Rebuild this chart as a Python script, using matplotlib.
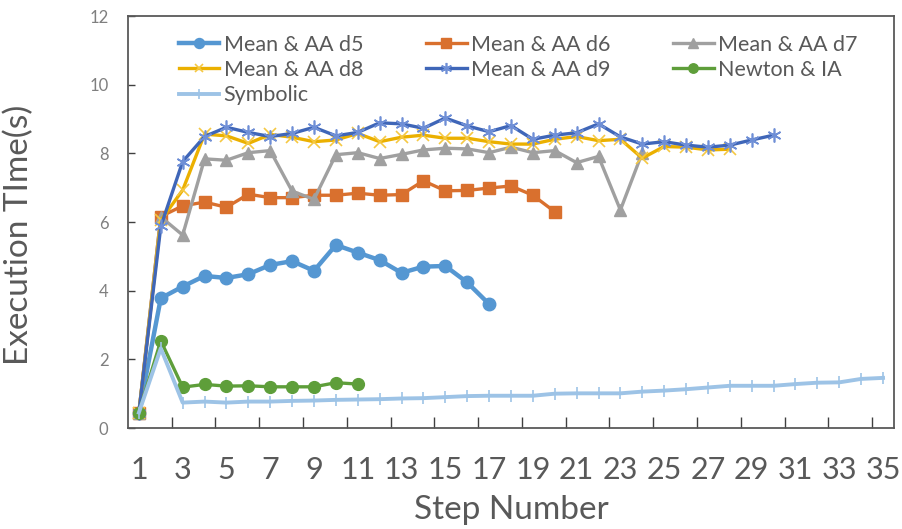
import numpy as np
import matplotlib
matplotlib.use("Agg")
import matplotlib.pyplot as plt

plt.rcParams['font.family'] = ['Lato', 'DejaVu Sans']

# Step numbers 1..35 (category axis)
steps = list(range(1, 36))

d5 = [0.45, 3.78, 4.12, 4.43, 4.37, 4.48, 4.75, 4.86, 4.58, 5.33, 5.11, 4.89,
      4.52, 4.70, 4.72, 4.24, 3.61]
d6 = [0.45, 6.16, 6.47, 6.58, 6.43, 6.81, 6.71, 6.71, 6.78, 6.78, 6.84, 6.78,
      6.80, 7.20, 6.91, 6.92, 6.99, 7.05, 6.78, 6.30]
d7 = [0.45, 6.15, 5.62, 7.84, 7.80, 8.02, 8.08, 6.90, 6.66, 7.96, 8.02, 7.85,
      7.97, 8.10, 8.15, 8.13, 8.02, 8.18, 8.02, 8.08, 7.73, 7.91, 6.35, 8.02]
d8 = [0.45, 6.05, 6.93, 8.56, 8.51, 8.29, 8.55, 8.47, 8.34, 8.39, 8.58, 8.34,
      8.47, 8.53, 8.44, 8.44, 8.34, 8.27, 8.27, 8.41, 8.49, 8.37, 8.41, 7.86,
      8.20, 8.18, 8.10, 8.12]
d9 = [0.45, 5.87, 7.76, 8.49, 8.76, 8.61, 8.49, 8.58, 8.76, 8.51, 8.61, 8.89,
      8.86, 8.73, 9.03, 8.80, 8.63, 8.81, 8.41, 8.53, 8.60, 8.86, 8.48, 8.27,
      8.34, 8.24, 8.18, 8.24, 8.39, 8.53]
newton = [0.45, 2.54, 1.19, 1.27, 1.22, 1.23, 1.20, 1.20, 1.20, 1.32, 1.28]
symbolic = [0.45, 2.32, 0.74, 0.77, 0.74, 0.77, 0.77, 0.79, 0.80, 0.82, 0.83,
            0.84, 0.86, 0.87, 0.90, 0.93, 0.94, 0.94, 0.94, 1.00, 1.01, 1.01,
            1.01, 1.06, 1.09, 1.13, 1.18, 1.23, 1.23, 1.23, 1.28, 1.32, 1.33,
            1.43, 1.46]

series = [
    ("Mean & AA d5", d5, dict(color='#5597D2', lw=3.2, marker='o', ms=9)),
    ("Mean & AA d6", d6, dict(color='#D9702E', lw=2.4, marker='s', ms=9)),
    ("Mean & AA d7", d7, dict(color='#A0A0A0', lw=2.4, marker='^', ms=9)),
    ("Mean & AA d8", d8, dict(color='#EBB000', lw=2.4, marker='x', ms=8,
                              mec='#F5C842', mew=1.2)),
    ("Mean & AA d9", d9, dict(color='#3F66B8', lw=2.4, marker=(6, 2, 0), ms=10,
                              mec='#6F8FD6', mew=1.2)),
    ("Newton & IA", newton, dict(color='#5E9E3A', lw=2.4, marker='o', ms=8.5)),
    ("Symbolic", symbolic, dict(color='#9DC3E6', lw=2.8, marker='|', ms=9,
                                mew=1.2)),
]

text_col = '#595959'

fig = plt.figure(figsize=(9.03, 5.29), dpi=100)
ax = fig.add_axes([0.1417, 0.1909, 0.8483, 0.7788])

lines = []
for name, vals, style in series:
    ln, = ax.plot(steps[:len(vals)], vals, label=name, **style)
    lines.append(ln)

ax.set_xlim(0.5, 35.5)
ax.set_ylim(0, 12)
ax.set_xticks(steps[::2])
ax.set_xticks(np.arange(2.5, 35.5, 2), minor=True)
ax.set_yticks(np.arange(0, 13, 2))

ax.tick_params(axis='x', which='major', length=0, pad=20, labelsize=22,
               labelcolor=text_col)
ax.tick_params(axis='x', which='minor', direction='in', length=8, width=1,
               color='#404040')
ax.tick_params(axis='y', direction='in', length=5, width=1, color='#404040',
               pad=14, labelsize=12, labelcolor='#7F7F7F')

for side in ['left', 'bottom', 'top', 'right']:
    ax.spines[side].set_color('#595959')
    ax.spines[side].set_linewidth(1.3)

ax.set_xlabel("Step Number", fontsize=24, color=text_col, labelpad=8)
ax.set_ylabel("Execution TIme(s)", fontsize=24, color=text_col)
ax.yaxis.set_label_coords(-0.122, 0.47)

# legend is filled column by column; order so it reads row by row
order = [0, 3, 6, 1, 4, 2, 5]
ax.legend([lines[i] for i in order], [series[i][0] for i in order],
          loc='upper left', bbox_to_anchor=(0.066, 0.955), ncol=3, frameon=False,
          fontsize=15.5, labelcolor=text_col, handlelength=1.9, handletextpad=0.2,
          columnspacing=2.9, labelspacing=0.25, borderpad=0, borderaxespad=0,
          markerscale=0.8)

fig.savefig("out.png", dpi=100)
